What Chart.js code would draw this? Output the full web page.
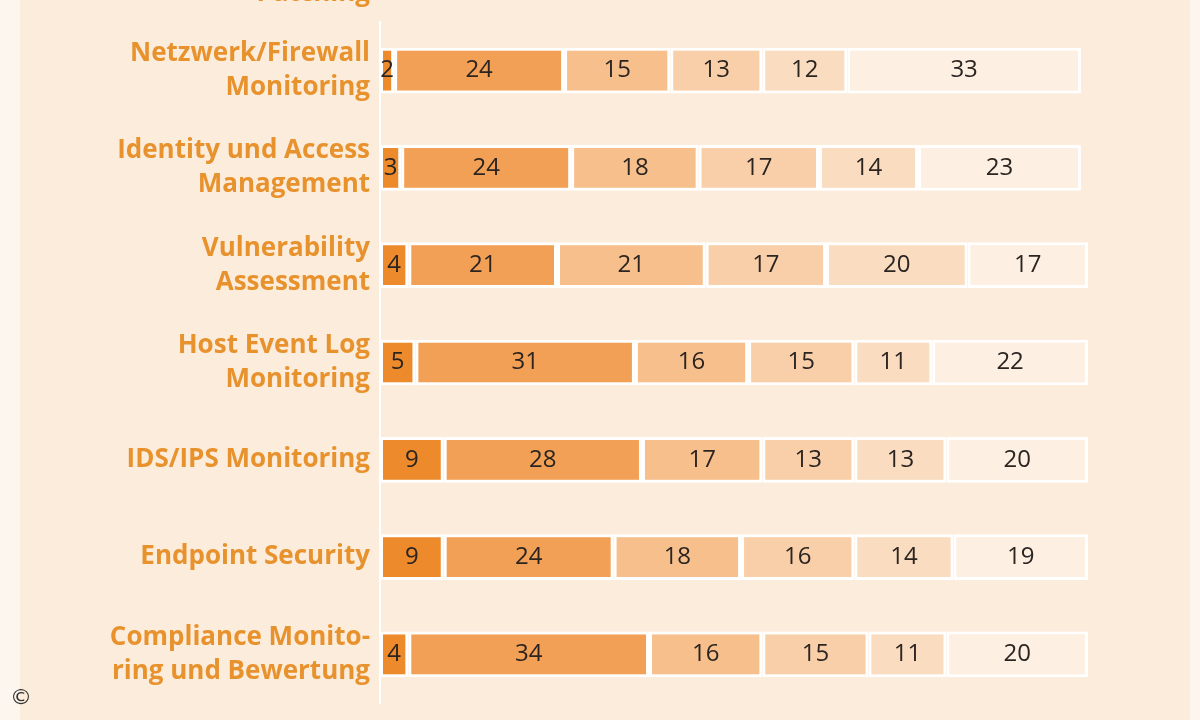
<!DOCTYPE html>
<html><head><meta charset="utf-8">
<script src="https://cdn.jsdelivr.net/npm/chart.js@4"></script>
<style>
html,body{margin:0;padding:0;background:#fdf6ee;}
#wrap{position:absolute;left:20px;top:0;width:1170px;height:720px;background:#fcecdc;}
canvas{position:absolute;left:0;top:0;}
#copy{position:absolute;left:10px;top:684px;font:22px "DejaVu Sans";color:#333;}
</style></head><body>
<div id="wrap"></div>
<canvas id="c" width="1200" height="720"></canvas>
<div id="copy">©</div>
<script>
const categories = [["Netzwerk/Firewall","Monitoring"],["Identity und Access","Management"],["Vulnerability","Assessment"],["Host Event Log","Monitoring"],["IDS/IPS Monitoring"],["Endpoint Security"],["Compliance Monito-","ring und Bewertung"]];
const s1 = [2,3,4,5,9,9,4];
const s2 = [24,24,21,31,28,24,34];
const s3 = [15,18,21,16,17,18,16];
const s4 = [13,17,17,15,13,16,15];
const s5 = [12,14,20,11,13,14,11];
const s6 = [33,23,17,22,20,19,20];
const colors = ["#ec8a2c","#f2a055","#f6bf8c","#f8cfa9","#fadcc0","#fdf0e2"];
const series=[s1,s2,s3,s4,s5,s6];
const labelsPlugin={id:'lbl',afterDatasetsDraw(ch){const c=ch.ctx;c.save();c.font='24px "Open Sans"';c.fillStyle='#2b2420';c.textAlign='center';c.textBaseline='middle';
ch.data.datasets.forEach((d,i)=>{ch.getDatasetMeta(i).data.forEach((b,j)=>{c.fillText(d.data[j],(b.x+b.base)/2,b.y);});});
c.fillStyle='#e8922e';c.font='bold 26px "Open Sans"';c.textAlign='right';
const y=ch.scales.y;
ch.data.labels.forEach((l,i)=>{const cy=y.getPixelForValue(i);const lh=34;l.forEach((t,k)=>c.fillText(t,370,cy+(k-(l.length-1)/2)*lh));});
c.fillText('Patching',370,-6);c.restore();}};
new Chart(document.getElementById('c'),{type:'bar',
data:{labels:categories,datasets:series.map((d,i)=>({data:d,backgroundColor:colors[i],borderColor:'#ffffff',borderWidth:3,borderSkipped:false,barPercentage:0.47,categoryPercentage:1}))},
options:{indexAxis:'y',responsive:false,animation:false,layout:{padding:{top:22,bottom:17,right:112,left:0}},
plugins:{legend:{display:false},tooltip:{enabled:false}},
scales:{x:{stacked:true,min:0,max:100,display:false},
y:{stacked:true,afterFit(a){a.width=380;},grid:{display:false,drawTicks:false},border:{color:'#ffffff',width:2},
ticks:{display:false}}}},
plugins:[labelsPlugin]});
</script></body></html>
